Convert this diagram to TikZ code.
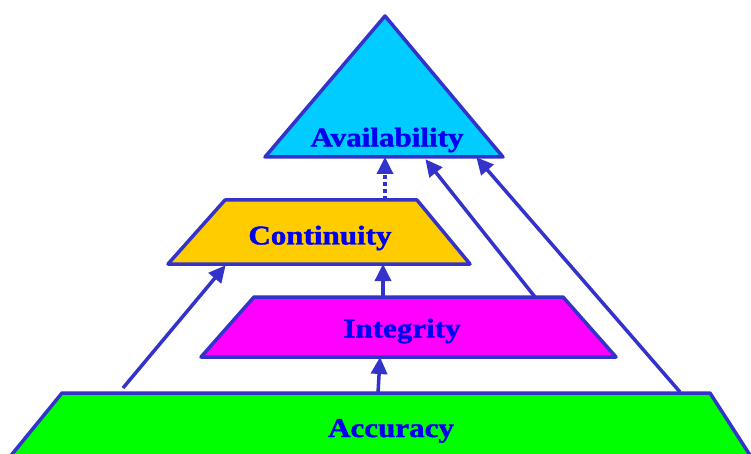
\documentclass[tikz,border=0pt]{standalone}
\usepackage{fontspec}
\usetikzlibrary{arrows.meta}
\newfontfamily\labfont[FakeStretch=1.15,FakeBold=1.5]{Liberation Serif}
\definecolor{edgeblue}{HTML}{3333CC}
\definecolor{txtblue}{HTML}{0000F0}
\definecolor{availfill}{HTML}{00CCFF}
\definecolor{contfill}{HTML}{FFCC00}
\definecolor{integfill}{HTML}{FF00FF}
\definecolor{accfill}{HTML}{00FF00}
\tikzset{
  layer/.style={draw=edgeblue, line width=3.5pt, line join=round},
  lab/.style={font=\labfont\bfseries\fontsize{27}{31}\selectfont, text=txtblue, inner sep=0pt},
  conn/.style={draw=edgeblue, line width=3.5pt, -{Triangle[length=17pt,width=16pt]}, shorten >=-1pt},
  dconn/.style={conn, dash pattern=on 4pt off 3pt},
}
\begin{document}
\begin{tikzpicture}[x=1pt,y=-1pt]
\useasboundingbox (0,0) rectangle (751,454);
\clip (0,0) rectangle (751,454);
% Availability triangle
\path[layer, fill=availfill] (385,16) -- (503,157) -- (265,157) -- cycle;
\node[lab] (avail) at (387,140) {Availability};
% Continuity
\path[layer, fill=contfill] (225,200) -- (417,200) -- (470,264) -- (168,264) -- cycle;
\node[lab] (cont) at (320,238) {Continuity};
% Integrity
\path[layer, fill=integfill] (254,297) -- (563,297) -- (616,357) -- (201,357) -- cycle;
\node[lab] (integ) at (402,331) {Integrity};
% Accuracy
\path[layer, fill=accfill] (62,393) -- (710,393) -- (766,480) -- (-9,480) -- cycle;
\node[lab] (acc) at (391,431) {Accuracy};
% connector anchor points
\coordinate (availB1) at (385,158);
\coordinate (availB2) at (426,160);
\coordinate (availB3) at (477,158);
\coordinate (contT) at (385,200);
\coordinate (contB1) at (383,265);
\coordinate (contB2) at (225,266);
\coordinate (integT1) at (383,297);
\coordinate (integT2) at (535,297);
\coordinate (integB) at (380,358);
\coordinate (accT1) at (378,393);
\coordinate (accL) at (123,388);
\coordinate (accR) at (680,392);
% connectors
\draw[dconn] (contT) -- (availB1);
\draw[conn] (integT1) -- (contB1);
\draw[conn] (accT1) -- (integB);
\draw[conn] (accL) -- (contB2);
\draw[conn] (integT2) -- (availB2);
\draw[conn] (accR) -- (availB3);
\end{tikzpicture}
\end{document}
